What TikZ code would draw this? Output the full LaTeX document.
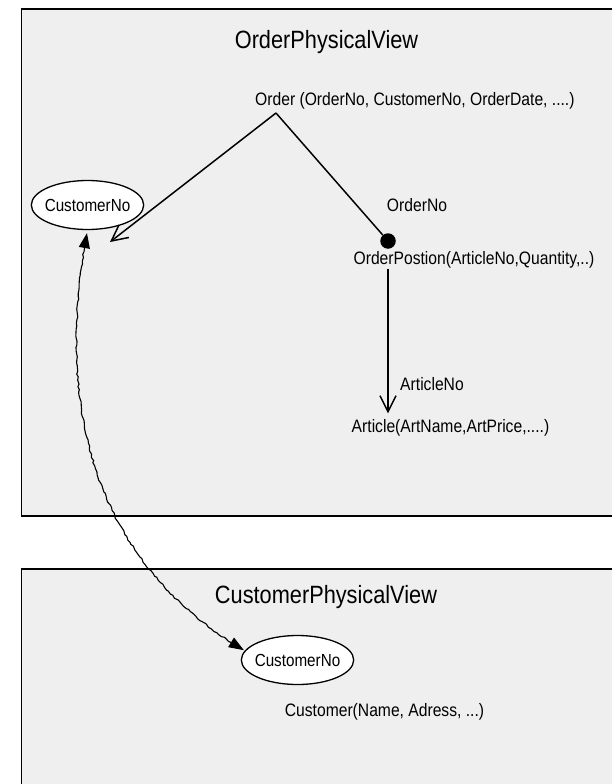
\documentclass[tikz,border=0pt]{standalone}
\usepackage{fontspec}
\newfontfamily\diagfont[FakeStretch=0.87]{Liberation Sans}
\usetikzlibrary{arrows.meta,decorations.pathmorphing,shapes.geometric}
\definecolor{viewgray}{RGB}{239,239,239}

\begin{document}
\begin{tikzpicture}[x=1bp,y=-1bp,
  view/.style={draw=black, line width=1.4bp, fill=viewgray},
  heading/.style={inner sep=0pt, font=\diagfont\fontsize{25bp}{28bp}\selectfont},
  lbl/.style={inner sep=0pt, font=\diagfont\fontsize{18bp}{20bp}\selectfont},
  keyell/.style={ellipse, draw=black, line width=1.3bp, fill=white,
    inner xsep=-3bp, inner ysep=2bp, minimum height=49bp,
    font=\diagfont\fontsize{17.5bp}{19bp}\selectfont},
  link/.style={line width=1.5bp},
  barb/.style={-{Straight Barb[length=16bp,width=16bp]}},
  crosslink/.style={line width=1.1bp, {Triangle[length=15bp,width=11bp]}-{Triangle[length=15bp,width=11bp]},
    decorate, decoration={random steps, segment length=3bp, amplitude=0.8bp,
      pre length=16bp, post length=16bp}},
  dotnode/.style={circle, fill=black, inner sep=0pt, minimum size=15.5bp}
]
  % page
  \fill[white] (0,0) rectangle (612,784);
  \useasboundingbox (0,0) rectangle (612,784);

  % the two physical views
  \draw[view] (21.5,9) rectangle (640,516);
  \draw[view] (21.5,569) rectangle (640,800);

  % order view
  \node[heading] (ovtitle) at (326.5,42) {OrderPhysicalView};
  \node[lbl, anchor=west] (order) at (255,101) {Order (OrderNo, CustomerNo, OrderDate, ....)};
  \coordinate (apex) at (276,113);
  \node[keyell] (ct) at (87.5,205) {CustomerNo};
  \coordinate (ctarget) at (110,242);
  \node[dotnode] (dot) at (388,241) {};
  \node[lbl] (ordno) at (417,205) {OrderNo};
  \node[lbl] (op) at (474,260) {OrderPostion(ArticleNo,Quantity,..)};
  \node[lbl] (artno) at (432,384) {ArticleNo};
  \node[lbl] (art) at (450.5,428) {Article(ArtName,ArtPrice,....)};

  \draw[link, barb] (apex) -- (ctarget);
  \draw[link] (apex) -- (dot);
  \draw[link, barb, shorten >=6bp] (op.south -| dot) -- (art.north -| dot);

  % customer view
  \node[heading] (cvtitle) at (326,597) {CustomerPhysicalView};
  \node[keyell] (cb) at (297.5,660) {CustomerNo};
  \node[lbl] (cust) at (384.5,712) {Customer(Name, Adress, ...)};

  % link between the two CustomerNo keys
  \draw[crosslink, shorten <=3bp, shorten >=1bp]
    (ct.south) .. controls (55,400) and (90,560) .. (cb.170);
\end{tikzpicture}
\end{document}
